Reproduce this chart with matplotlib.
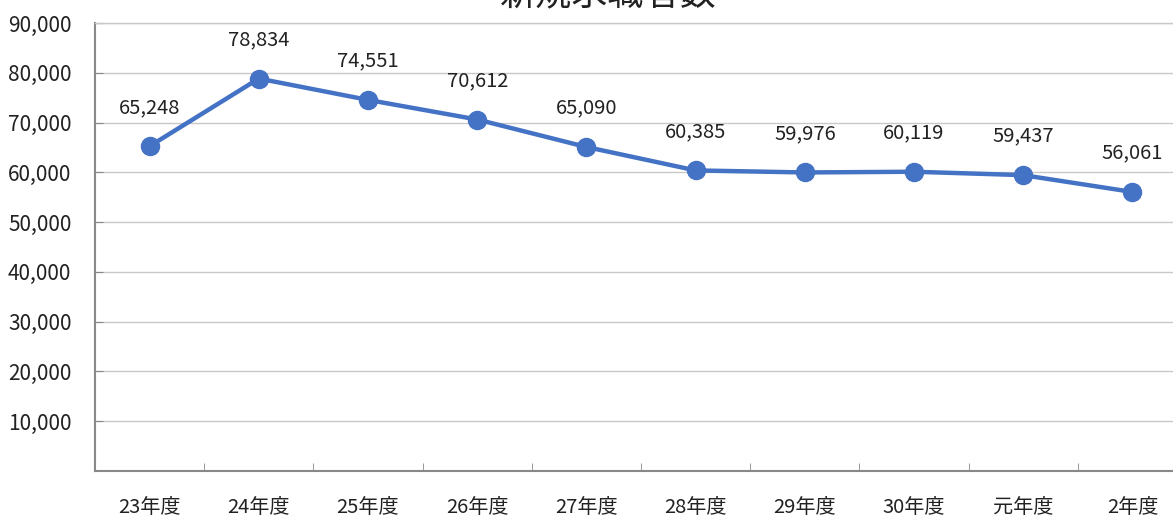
import matplotlib.pyplot as plt
from matplotlib.ticker import FuncFormatter

plt.rcParams['font.family'] = ['Noto Sans CJK JP', 'DejaVu Sans']

years = ["23年度", "24年度", "25年度", "26年度", "27年度",
         "28年度", "29年度", "30年度", "元年度", "2年度"]
seekers = [65248, 78834, 74551, 70612, 65090, 60385, 59976, 60119, 59437, 56061]

W, H = 1173, 520
fig = plt.figure(figsize=(W / 100, H / 100), dpi=100)
left, right, top, bottom = 95, 1187, 23, 471
ax = fig.add_axes([left / W, 1 - bottom / H, (right - left) / W, (bottom - top) / H])

x = range(len(years))
ax.plot(x, seekers, color="#4472C4", lw=3.2, marker="o", ms=13, zorder=3)
for i, v in enumerate(seekers):
    ax.annotate(f"{v:,}", (i, v), xytext=(0, 28), textcoords="offset points",
                ha="center", va="center", fontsize=14.5, color="#222222")

ax.set_xlim(-0.5, len(years) - 0.5)
ax.set_ylim(0, 90000)
ax.set_yticks(range(10000, 90001, 10000))
ax.yaxis.set_major_formatter(FuncFormatter(lambda v, p: f"{int(v):,}"))
ax.yaxis.grid(True, color="#C8C8C8", lw=1)
ax.set_axisbelow(True)

ax.set_xticks(list(x))
ax.set_xticklabels(years, fontsize=14.5, color="#222222")
ax.set_xticks([i + 0.5 for i in range(len(years) - 1)], minor=True)
ax.tick_params(axis="x", which="major", length=0, pad=19)
ax.tick_params(axis="x", which="minor", direction="in", length=6, color="#888888")
ax.tick_params(axis="y", direction="in", length=6, color="#888888", labelsize=15,
               labelcolor="#222222", pad=17)

for s in ["left", "bottom", "top"]:
    ax.spines[s].set_color("#888888")
    ax.spines[s].set_linewidth(1.5)
ax.spines["top"].set_color("#C8C8C8")
ax.spines["top"].set_linewidth(1)
ax.spines["right"].set_visible(False)

# title sits partly above the top edge, as in the reference
fig.text(608 / W, 1 + 5 / H, "新規求職者数", ha="center", va="center", fontsize=26, color="#222222")

fig.savefig("out.png", dpi=100)
